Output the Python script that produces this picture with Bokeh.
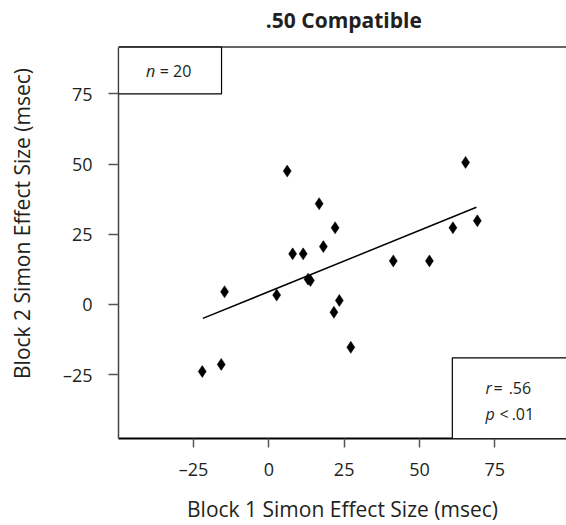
from bokeh.plotting import figure
from bokeh.models import (Range1d, FixedTicker, CustomJSTickFormatter, Span,
                          BoxAnnotation, Label, ColumnDataSource)
from bokeh.embed import file_html
from bokeh.resources import INLINE

# ---- data ----
block1 = [6.1, 7.9, 11.4, -14.7, 2.6, 13.0, 13.8, 16.7, 22.0, 18.1,
          23.4, 21.6, 41.3, 53.3, 61.1, 69.2, 65.3, -22.1, -15.8, 27.2]
block2 = [47.5, 18.0, 18.0, 4.5, 3.3, 9.0, 8.5, 35.9, 27.3, 20.6,
          1.4, -2.8, 15.5, 15.5, 27.3, 29.8, 50.6, -23.9, -21.4, -15.3]
fit_x = [-21.9, 68.9]
fit_y = [-5.0, 34.6]
x_ticks = [-25, 0, 25, 50, 75]
y_ticks = [-25, 0, 25, 50, 75]
title_text = ".50 Compatible"
x_label = "Block 1 Simon Effect Size (msec)"
y_label = "Block 2 Simon Effect Size (msec)"

FONT = "Open Sans"
INK = "#231f20"

Y_LO, Y_HI = -47.8, 91.7          # visible plotting box of the reference
p = figure(width=566, height=525, output_backend="svg", toolbar_location=None,
           x_range=Range1d(-49.9, 98.8), y_range=Range1d(Y_LO, 105.45),
           min_border_left=118, min_border_right=0, min_border_top=8,
           min_border_bottom=83, outline_line_color=None,
           background_fill_color="white", border_fill_color="white")
p.title.visible = False
p.xgrid.visible = False
p.ygrid.visible = False

fmt = CustomJSTickFormatter(code="""
    return tick < 0 ? "\\u2013" + Math.abs(tick) : tick.toString();
""")

for ax, ticks in ((p.xaxis[0], x_ticks), (p.yaxis[0], y_ticks)):
    ax.ticker = FixedTicker(ticks=ticks)
    ax.formatter = fmt
    ax.minor_tick_line_color = None
    ax.major_tick_in = 0
    ax.major_label_text_font = FONT
    ax.major_label_text_font_size = "18px"
    ax.major_label_text_color = INK
    ax.major_tick_line_color = "#555555"
    ax.major_tick_line_width = 1.5
    ax.axis_label_text_font = FONT
    ax.axis_label_text_font_size = "21px"
    ax.axis_label_text_font_style = "normal"
    ax.axis_label_text_color = INK

p.xaxis.major_tick_out = 9
p.xaxis.major_label_standoff = 9
p.xaxis.axis_line_color = "black"
p.xaxis.axis_line_width = 2
p.xaxis.axis_label = x_label
p.xaxis.axis_label_standoff = 11

p.yaxis.bounds = (Y_LO, Y_HI)
p.yaxis.major_tick_out = 10
p.yaxis.major_label_standoff = 16
p.yaxis.major_label_orientation = "horizontal"
p.yaxis.axis_line_color = "#444444"
p.yaxis.axis_line_width = 1.5
p.yaxis.axis_label = y_label
p.yaxis.axis_label_standoff = 24

# top border line of the plotting box (no right border in the reference)
p.add_layout(Span(location=Y_HI, dimension="width", line_color="#666666", line_width=2))

# regression line and points
p.line(fit_x, fit_y, line_color="black", line_width=1.5)
src = ColumnDataSource(dict(x=block1, y=block2))
p.scatter("x", "y", source=src, marker="diamond", size=12,
          fill_color="black", line_color="black", line_width=0.5)

# annotation boxes
p.add_layout(BoxAnnotation(right=-15.7, bottom=75.0, top=Y_HI, fill_color="white", fill_alpha=1,
                           line_color="black", line_alpha=1, line_width=1.2,
                           level="annotation"))
p.add_layout(BoxAnnotation(left=60.9, top=-19.1, right=120, fill_color="white", fill_alpha=1,
                           line_color="black", line_alpha=1, line_width=1.2,
                           level="annotation"))

# title
p.add_layout(Label(x=24.9, y=101.2, text=title_text, text_font=FONT, text_font_size="21px",
                   text_font_style="bold", text_color=INK, text_align="center",
                   text_baseline="alphabetic"))

def lab(x, y, t, italic=False):
    p.add_layout(Label(x=x, y=y, text=t, text_font=FONT, text_font_size="16px",
                       text_font_style="italic" if italic else "normal",
                       text_color=INK, text_align="left", text_baseline="alphabetic"))

lab(-40.8, 83.3, "n", True)
lab(-36.2, 83.3, "= 20")
lab(71.9, -29.8, "r", True)
lab(74.6, -29.8, "=")
lab(79.6, -29.8, ".56")
lab(71.9, -38.9, "p", True)
lab(76.6, -38.9, "<")
lab(80.6, -38.9, ".01")

open("out.html", "w").write(file_html(p, INLINE))
